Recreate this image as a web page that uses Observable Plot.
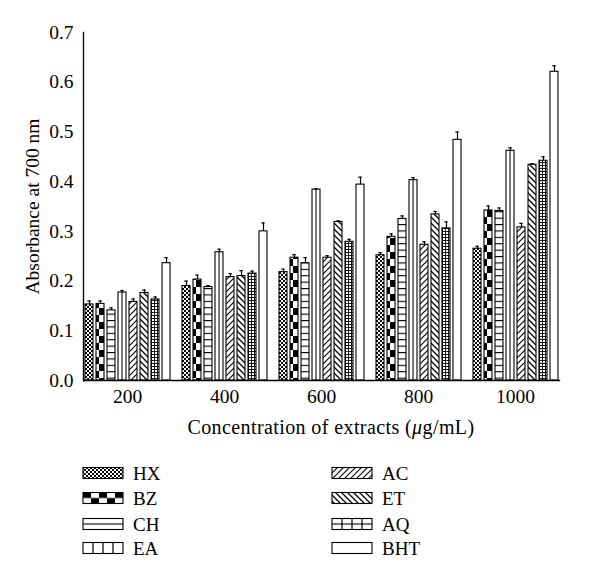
<!DOCTYPE html>
<html>
<head>
<meta charset="utf-8">
<script src="https://cdn.jsdelivr.net/npm/d3@7"></script>
<script src="https://cdn.jsdelivr.net/npm/@observablehq/plot@0.6"></script>
<style>
  html, body { margin: 0; padding: 0; background: #fff; }
  #chart { width: 600px; }
  svg { display: block; }
</style>
</head>
<body>
<div id="chart"></div>
<script>
// ---- data ----
const concentrations = ["200", "400", "600", "800", "1000"];
const series = ["HX", "BZ", "CH", "EA", "AC", "ET", "AQ", "BHT"];
const yTicks = [0, 0.1, 0.2, 0.3, 0.4, 0.5, 0.6, 0.7];

const HX  = [0.153, 0.190, 0.218, 0.252, 0.265];
const BZ  = [0.154, 0.203, 0.247, 0.289, 0.342];
const CH  = [0.141, 0.188, 0.236, 0.325, 0.341];
const EA  = [0.177, 0.258, 0.384, 0.403, 0.462];
const AC  = [0.158, 0.208, 0.247, 0.273, 0.308];
const ET  = [0.176, 0.210, 0.319, 0.334, 0.434];
const AQ  = [0.163, 0.215, 0.279, 0.306, 0.442];
const BHT = [0.236, 0.300, 0.394, 0.484, 0.621];

const HX_err  = [0.007, 0.010, 0.006, 0.005, 0.005];
const BZ_err  = [0.006, 0.009, 0.006, 0.006, 0.009];
const CH_err  = [0.005, 0.003, 0.011, 0.006, 0.006];
const EA_err  = [0.004, 0.006, 0.002, 0.005, 0.006];
const AC_err  = [0.006, 0.007, 0.004, 0.006, 0.008];
const ET_err  = [0.006, 0.011, 0.002, 0.006, 0.002];
const AQ_err  = [0.005, 0.005, 0.005, 0.013, 0.008];
const BHT_err = [0.011, 0.017, 0.015, 0.016, 0.012];

const means = {HX, BZ, CH, EA, AC, ET, AQ, BHT};
const errs = {HX: HX_err, BZ: BZ_err, CH: CH_err, EA: EA_err, AC: AC_err, ET: ET_err, AQ: AQ_err, BHT: BHT_err};

const data = [];
series.forEach(s => concentrations.forEach((c, i) => {
  data.push({series: s, conc: c, value: means[s][i], err: errs[s][i]});
}));

const FONT = "'Liberation Serif', 'DejaVu Serif', serif";

const chart = Plot.plot({
  width: 600,
  height: 445,
  marginTop: 32,
  marginBottom: 65,
  marginLeft: 82,
  marginRight: 20,
  style: {fontFamily: FONT, fontSize: "19.5px", color: "black", background: "white", overflow: "visible"},
  fx: {domain: concentrations, paddingInner: 0.09, paddingOuter: 0.086, align: 0.05, label: null, tickSize: 0, tickPadding: 9},
  x: {domain: series, axis: null, paddingInner: 0.3, paddingOuter: 0.15},
  y: {domain: [0, 0.7], ticks: yTicks, tickFormat: d3.format(".1f"), tickSize: 0, tickPadding: 10,
      label: "Absorbance at 700 nm", labelAnchor: "center", labelOffset: 58, labelArrow: false},
  marks: [
    ...series.map(s => Plot.barY(data.filter(d => d.series === s), {
      fx: "conc", x: "series", y: "value",
      fill: `url(#pat-${s})`, stroke: "black", strokeWidth: 1.1
    })),
    Plot.ruleX(data, {fx: "conc", x: "series", y1: "value", y2: d => d.value + d.err, stroke: "black", strokeWidth: 1.2}),
    Plot.tickY(data, {fx: "conc", x: "series", y: d => d.value + d.err, stroke: "black", strokeWidth: 1.2, insetLeft: 2.3, insetRight: 2.3}),
    Plot.frame({anchor: "left", facet: "super", stroke: "black", strokeWidth: 1.3}),
    Plot.frame({anchor: "bottom", facet: "super", stroke: "black", strokeWidth: 1.3})
  ]
});

// ---- fill patterns ----
const svg = d3.select(chart);
const defs = svg.insert("defs", ":first-child");

function pat(id, w, h, draw, opts = {}) {
  const p = defs.append("pattern").attr("id", id)
    .attr("patternUnits", opts.units || "userSpaceOnUse")
    .attr("width", w).attr("height", h);
  if (opts.content) p.attr("patternContentUnits", opts.content);
  p.append("rect").attr("width", opts.content ? 1 : w).attr("height", opts.content ? 1 : h).attr("fill", "white");
  draw(p);
  return p;
}
// HX fine checker
pat("pat-HX", 4, 4, p => {
  p.append("rect").attr("x", 0).attr("y", 0).attr("width", 2).attr("height", 2).attr("fill", "black");
  p.append("rect").attr("x", 2).attr("y", 2).attr("width", 2).attr("height", 2).attr("fill", "black");
});
// BZ large checker
pat("pat-BZ", 14, 14, p => {
  p.append("rect").attr("x", 0).attr("y", 0).attr("width", 7).attr("height", 7).attr("fill", "black");
  p.append("rect").attr("x", 7).attr("y", 7).attr("width", 7).attr("height", 7).attr("fill", "black");
});
// CH horizontal lines
pat("pat-CH", 10, 6.4, p => {
  p.append("rect").attr("x", 0).attr("y", 0).attr("width", 10).attr("height", 1.1).attr("fill", "black");
});
// EA single vertical line in bar middle
pat("pat-EA", 1, 1, p => {
  p.append("rect").attr("x", 0.44).attr("y", 0).attr("width", 0.13).attr("height", 1).attr("fill", "black");
}, {units: "objectBoundingBox", content: "objectBoundingBox"});
// AC forward diagonal
pat("pat-AC", 6, 6, p => {
  p.append("path").attr("d", "M-1,1 L1,-1 M0,6 L6,0 M5,7 L7,5").attr("stroke", "black").attr("stroke-width", 1.1);
});
// ET backward diagonal
pat("pat-ET", 6, 6, p => {
  p.append("path").attr("d", "M-1,5 L1,7 M0,0 L6,6 M5,-1 L7,1").attr("stroke", "black").attr("stroke-width", 1.3);
});
// AQ small grid
pat("pat-AQ", 3, 3, p => {
  p.append("path").attr("d", "M0,0.5 H3 M0.5,0 V3").attr("stroke", "black").attr("stroke-width", 0.9);
});
// BHT plain
pat("pat-BHT", 4, 4, p => {});

// legend-specific patterns (bounding-box based)
pat("lg-BZ", 1, 1, p => {
  const cols = 5, rows = 2;
  for (let r = 0; r < rows; r++) for (let c = 0; c < cols; c++) {
    if ((r + c) % 2 === 0) p.append("rect").attr("x", c / cols).attr("y", r / rows)
      .attr("width", 1 / cols).attr("height", 1 / rows).attr("fill", "black");
  }
}, {units: "objectBoundingBox", content: "objectBoundingBox"});
pat("lg-CH", 1, 1, p => {
  p.append("rect").attr("x", 0).attr("y", 0.45).attr("width", 1).attr("height", 0.1).attr("fill", "black");
}, {units: "objectBoundingBox", content: "objectBoundingBox"});
pat("lg-EA", 1, 1, p => {
  [0.25, 0.5, 0.75].forEach(x => p.append("rect").attr("x", x - 0.015).attr("y", 0).attr("width", 0.03).attr("height", 1).attr("fill", "black"));
}, {units: "objectBoundingBox", content: "objectBoundingBox"});
pat("lg-AQ", 1, 1, p => {
  [0.25, 0.5, 0.75].forEach(x => p.append("rect").attr("x", x - 0.015).attr("y", 0).attr("width", 0.03).attr("height", 1).attr("fill", "black"));
  p.append("rect").attr("x", 0).attr("y", 0.45).attr("width", 1).attr("height", 0.1).attr("fill", "black");
}, {units: "objectBoundingBox", content: "objectBoundingBox"});

// x-axis title with italic mu
const xt = svg.append("text").attr("x", 331).attr("y", 434).attr("text-anchor", "middle")
  .attr("font-family", FONT).attr("font-size", 20).attr("letter-spacing", 0.4).attr("fill", "black");
xt.append("tspan").text("Concentration of extracts (");
xt.append("tspan").attr("font-style", "italic").text("μ");
xt.append("tspan").text("g/mL)");

document.getElementById("chart").appendChild(chart);

// ---- legend ----
const legendFill = {HX: "pat-HX", BZ: "lg-BZ", CH: "lg-CH", EA: "lg-EA", AC: "pat-AC", ET: "pat-ET", AQ: "lg-AQ", BHT: "pat-BHT"};
const lg = d3.select("#chart").append("svg").attr("width", 600).attr("height", 138)
  .style("font-family", FONT).style("font-size", "19px");
const rowY = [28, 53, 79, 103];
series.forEach((s, i) => {
  const col = Math.floor(i / 4), row = i % 4;
  const sx = col === 0 ? 83 : 332;
  const g = lg.append("g");
  g.append("rect").attr("x", sx).attr("y", rowY[row] - 5.5).attr("width", 40).attr("height", 11)
    .attr("fill", `url(#${legendFill[s]})`).attr("stroke", "black").attr("stroke-width", 1.1);
  g.append("text").attr("x", sx + 50).attr("y", rowY[row]).attr("dy", "0.35em").attr("fill", "black").text(s);
});
</script>
</body>
</html>
